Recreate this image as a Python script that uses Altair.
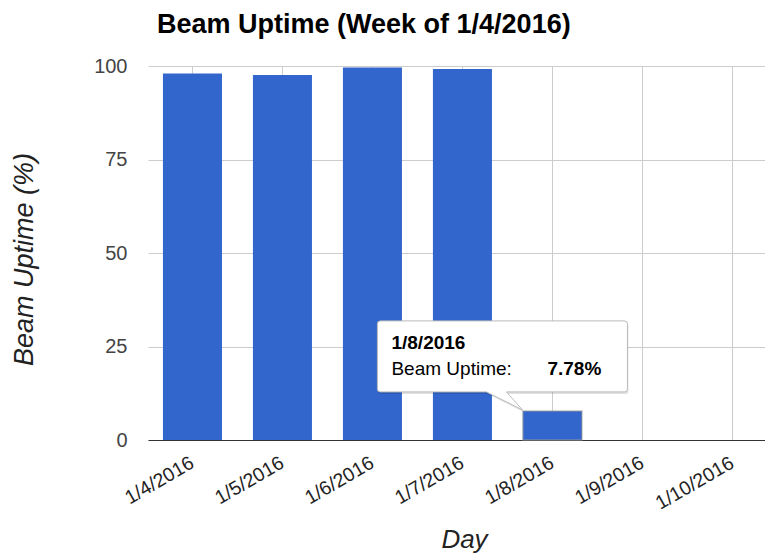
import altair as alt
import pandas as pd

# ---- data ----
days = ["1/4/2016", "1/5/2016", "1/6/2016", "1/7/2016", "1/8/2016", "1/9/2016", "1/10/2016"]
uptime = [98.0, 97.6, 99.6, 99.2, 7.78, 0.0, 0.0]
y_ticks = [0, 25, 50, 75, 100]

# highlighted (tooltip) day
tip_index = 4

df = pd.DataFrame({"day": days, "uptime": uptime})
tip = pd.DataFrame({
    "day": [days[tip_index]],
    "uptime": [uptime[tip_index]],
    "label": ["Beam Uptime:"],
    "valtxt": [f"{uptime[tip_index]}%"],
})

FONT = "Liberation Sans"

x_scale = alt.Scale(paddingInner=0.344, paddingOuter=0.1, align=0.83)
y_scale = alt.Scale(domain=[0, 100], nice=False)

x_enc = alt.X(
    "day:N",
    sort=days,
    scale=x_scale,
    axis=alt.Axis(
        title="Day",
        labelAngle=-30,
        labelAlign="right",
        labelBaseline="middle",
        labelFontSize=19.5,
        labelColor="#222222",
        labelPadding=21,
        labelOverlap=False,
        ticks=False,
        tickSize=0,
        domain=True,
        domainColor="#333333",
        domainWidth=1.2,
        grid=True,
        gridColor="#cccccc",
        bandPosition=0.5,
        titleFontSize=26,
        titleFontStyle="italic",
        titleFontWeight="normal",
        titleColor="#222222",
        titleX=316,
        titleY=107,
        titleAlign="center",
        titleBaseline="alphabetic",
    ),
)

y_enc = alt.Y(
    "uptime:Q",
    scale=y_scale,
    axis=alt.Axis(
        title="Beam Uptime (%)",
        values=y_ticks,
        domain=False,
        ticks=False,
        tickSize=0,
        grid=True,
        gridColor="#cccccc",
        labelFontSize=20,
        labelColor="#444444",
        labelPadding=21,
        titleFontSize=27,
        titleFontStyle="italic",
        titleFontWeight="normal",
        titleColor="#222222",
        titleX=-116,
        titleY=193,
        titleAlign="center",
        titleBaseline="alphabetic",
    ),
)

bars = alt.Chart(df).mark_bar(color="#3366CC")

highlight = alt.Chart(tip).mark_bar(
    color="#3366CC", stroke="#999999", strokeWidth=1.5, strokeOpacity=0.6
)

callout_path = (
    "M -172 -90 L 72 -90 Q 75 -90 75 -87 L 75 -22 Q 75 -19 72 -19 "
    "L -46 -19 L -30 -1 L -66 -19 L -172 -19 Q -175 -19 -175 -22 "
    "L -175 -87 Q -175 -90 -172 -90 Z"
)

shadow = alt.Chart(tip).mark_point(
    shape=callout_path, size=4, filled=True, fill="#000000", fillOpacity=0.12,
    strokeOpacity=0, xOffset=1, yOffset=2,
)

box = alt.Chart(tip).mark_point(
    shape=callout_path, size=4, filled=True, fill="#ffffff", fillOpacity=1,
    stroke="#bbbbbb", strokeWidth=1, strokeOpacity=1,
)

t_date = alt.Chart(tip).mark_text(
    align="left", baseline="alphabetic", dx=-161, dy=-62,
    fontSize=19, fontWeight="bold", color="#000000", font=FONT,
).encode(text="day:N")

t_label = alt.Chart(tip).mark_text(
    align="left", baseline="alphabetic", dx=-161, dy=-36,
    fontSize=19, color="#000000", font=FONT,
).encode(text="label:N")

t_val = alt.Chart(tip).mark_text(
    align="left", baseline="alphabetic", dx=-5, dy=-36,
    fontSize=19, fontWeight="bold", color="#000000", font=FONT,
).encode(text="valtxt:N")

chart = (
    alt.layer(bars, highlight, shadow, box, t_date, t_label, t_val)
    .encode(x=x_enc, y=y_enc)
    .properties(
        width=617,
        height=374,
        autosize="none",
        padding={"left": 140, "top": 58, "right": 0, "bottom": 117},
        title=alt.TitleParams(
            "Beam Uptime (Week of 1/4/2016)",
            anchor="start",
            frame="group",
            fontSize=27,
            fontWeight="bold",
            color="#000000",
            font=FONT,
            dx=9,
            offset=17,
        ),
    )
    .configure(font=FONT)
    .configure_view(stroke=None)
)

chart.save("out.html", embed_options={"renderer": "svg", "actions": False})
